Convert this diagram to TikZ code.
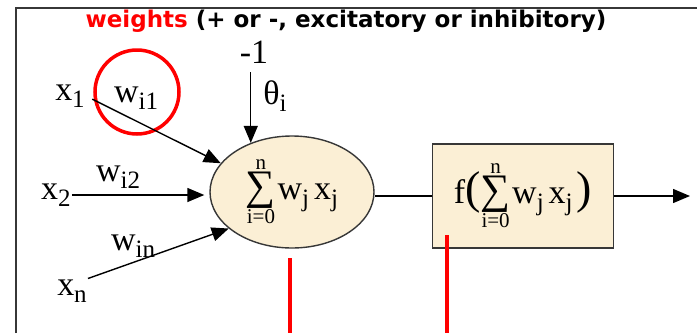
\documentclass[tikz,border=0pt]{standalone}
\usepackage{fontspec}
\setmainfont{Liberation Serif}
\newfontfamily\titlefont{DejaVu Sans}
\usetikzlibrary{arrows.meta,positioning,shapes.geometric}
\definecolor{cellfill}{RGB}{251,239,213}
\definecolor{framegray}{RGB}{55,55,55}
% variable with lowered index
\newcommand{\vlab}[2]{{\fontsize{34}{34}\selectfont #1}\raisebox{-7pt}{\fontsize{25}{25}\selectfont #2}}
% stacked sum sign
\newcommand{\sumop}{$\mathop{\hbox{\fontsize{42}{42}\selectfont ∑}}\limits^{\hbox{\fontsize{21}{21}\selectfont n}}_{\hbox{\fontsize{21}{21}\selectfont i=0}}$}

\begin{document}
\begin{tikzpicture}[x=1pt, y=-1pt, >={Triangle[length=17pt,width=14pt]},
  lab/.style={inner sep=1pt},
  arr/.style={->, line width=1.4pt},
  cell/.style={draw=framegray, line width=1.4pt, fill=cellfill},
  redline/.style={red, line width=3.5pt}]
\useasboundingbox (0,0) rectangle (697,333);
\draw[line width=2pt, framegray] (16,333) -- (16,8) -- (697,8);

% ---- title ----
\node[font=\titlefont\bfseries\fontsize{23}{23}\selectfont] (title) at (346,21)
  {\textcolor{red}{weights} (+ or -, excitatory or inhibitory)};

% ---- summation and activation ----
\node[cell, ellipse, minimum width=164, minimum height=112, inner sep=0pt] (sum) at (292,192)
  {\sumop\,\vlab{w}{j}\hspace{5pt}\vlab{x}{j}};
\node[cell, rectangle, minimum width=181, minimum height=104, inner sep=0pt] (fbox) at (523,196)
  {\vlab{f}{}{\fontsize{46}{46}\selectfont(}\sumop\,\vlab{w}{j}\hspace{5pt}\vlab{x}{j}\hspace{4pt}{\fontsize{46}{46}\selectfont)}};
\coordinate (out) at (690,196);

% ---- inputs ----
\node[lab] (x1) at (70,96) {\vlab{x}{1}};
\node[lab] (x2) at (56,195) {\vlab{x}{2}};
\node[lab] (xn) at (72,291) {\vlab{x}{n}};
\node[lab] (w1) at (136,98) {\vlab{w}{i1}};
\node[lab] (w2) at (118,177) {\vlab{w}{i2}};
\node[lab] (wn) at (133,246) {\vlab{w}{in}};
\node[lab, font=\fontsize{34}{34}\selectfont] (minus1) at (254,52) {-1};
\node[lab] (theta) at (275,96) {\vlab{θ}{i}};
\node[draw=red, line width=3.5pt, circle, minimum size=84] (wring) at (137,92) {};

% ---- connectors ----
\draw[arr, shorten <=7pt] (x1.east) -- (sum.158);
\draw[arr, shorten >=5pt] (x2.east) -- (x2.east -| sum.west);
\draw[arr] (xn.north east) -- (sum.210);
\draw[arr, shorten <=8pt] (sum.130 |- minus1.south) -- (sum.130);
\draw[line width=1.4pt] (fbox.west -| sum.east) -- (fbox.west);
\draw[arr] (fbox.east) -- (out);

% ---- red markers ----
\coordinate (m1a) at (290,258);
\coordinate (m1b) at (290,333);
\coordinate (m2a) at (447,235);
\coordinate (m2b) at (447,333);
\draw[redline] (m1a) -- (m1b);
\draw[redline] (m2a) -- (m2b);
\end{tikzpicture}
\end{document}
